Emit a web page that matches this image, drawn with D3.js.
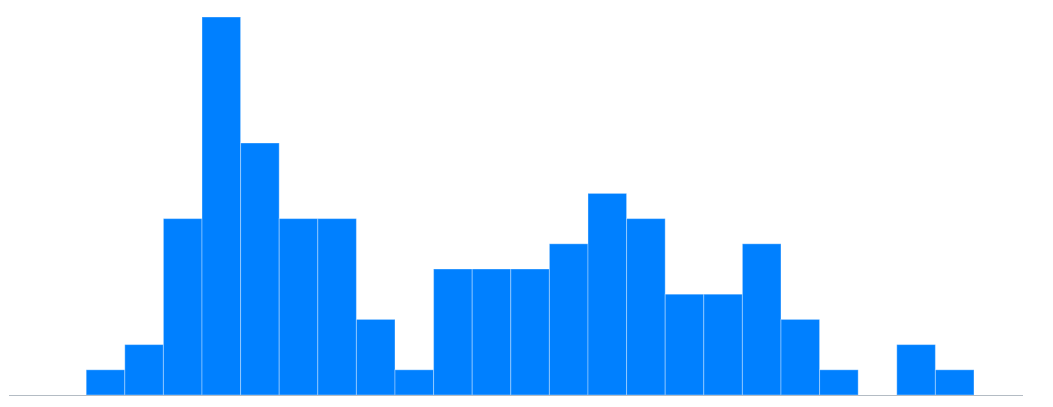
<!DOCTYPE html>
<html>
<head>
<meta charset="utf-8">
<script src="https://cdn.jsdelivr.net/npm/d3@7"></script>
<style>
  html, body { margin: 0; padding: 0; background: #fff; }
</style>
</head>
<body>
<div id="chart"></div>
<script>
// histogram bins: start of each bin and its count
var binStarts = [2, 3, 4, 5, 6, 7, 8, 9, 10, 11, 12, 13, 14, 15, 16, 17, 18, 19, 20, 21, 22, 23, 24];
var counts    = [1, 2, 7, 15, 10, 7, 7, 3, 1, 5, 5, 5, 6, 8, 7, 4, 4, 6, 3, 1, 0, 2, 1];
var binWidth = 1;
var xDomain = [0, 26.27];

var width = 1053, height = 407;

var svg = d3.select("#chart")
    .append("svg")
    .attr("width", width)
    .attr("height", height);

var x = d3.scaleLinear()
    .domain(xDomain)
    .range([9, 1023]);

var y = d3.scaleLinear()
    .domain([0, d3.max(counts)])
    .range([395, 17]);

var data = binStarts.map(function(s, i){
    return {x0: s, x1: s + binWidth, n: counts[i]};
});

svg.append("g")
    .selectAll("rect")
    .data(data.filter(d => d.n > 0))
    .enter()
    .append("rect")
    .attr("x", d => x(d.x0))
    .attr("width", d => x(d.x1) - x(d.x0))
    .attr("y", d => y(d.n))
    .attr("height", d => y(0) - y(d.n))
    .attr("fill", "#0080ff")
    .attr("stroke", "#fff")
    .attr("stroke-opacity", 0.35)
    .attr("stroke-width", 1);

// baseline
svg.append("line")
    .attr("x1", x(xDomain[0]))
    .attr("x2", x(xDomain[1]))
    .attr("y1", y(0) + 0.5)
    .attr("y2", y(0) + 0.5)
    .attr("stroke", "#b4bcc4")
    .attr("stroke-width", 1);
</script>
</body>
</html>
